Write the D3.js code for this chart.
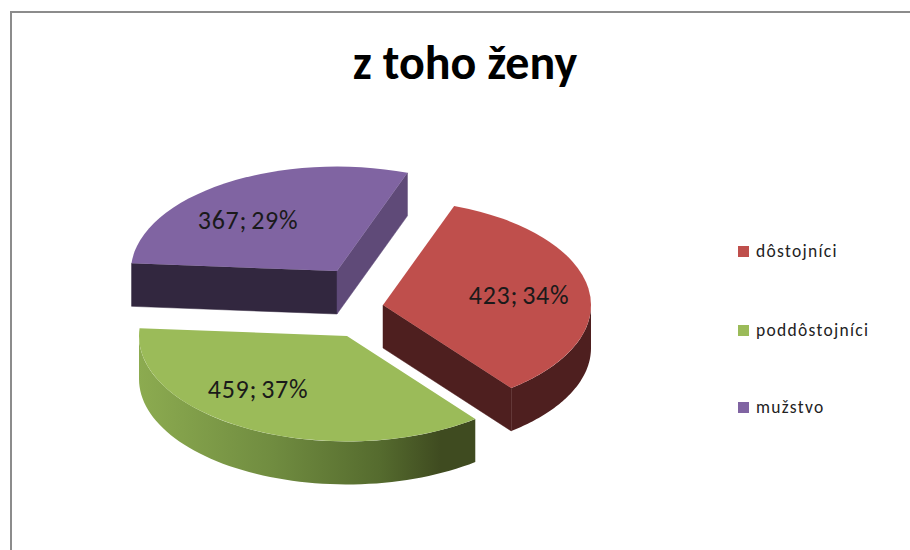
<!DOCTYPE html>
<html><head><meta charset="utf-8">
<script src="https://cdn.jsdelivr.net/npm/d3@7/dist/d3.min.js"></script>
<style>html,body{margin:0;padding:0;background:#fff}svg{display:block}</style>
</head><body><div id="c"></div>
<script>
const categories = ["dôstojníci", "poddôstojníci", "mužstvo"];
const values = [423, 459, 367];
const chartTitle = "z toho ženy";

const colors = ["#bf4f4c", "#9bbb59", "#8064a2"];
const apexes = [[383, 305], [347, 336], [337, 271]];
const radii = [208, 208, 206];
const labelCenters = [[519, 295], [258, 389], [248, 220]];
const legendY = [251, 330, 407];
const startFaceColors = [null, null, "#32273f"];
const endFaceColors = ["#4e1f1f", null, "#5f4a78"];
const wallFills = ["#4e1f1f", "url(#greenWall)", "#32273f"];
const tilt = 0.507, depth = 43, startDeg = 20;

const W = 910, H = 550;
const svg = d3.select("#c").append("svg").attr("width", W).attr("height", H);
const font = "Carlito, Lato, 'Open Sans', sans-serif";

svg.append("path").attr("d", `M11 ${H}V12H${W}`).attr("fill", "none")
  .attr("stroke", "#8c8c8c").attr("stroke-width", 2);

// gradient runs across the green slice's rim, in the slice's own coordinates
const grad = svg.append("defs").append("linearGradient").attr("id", "greenWall")
  .attr("gradientUnits", "userSpaceOnUse").attr("x1", -radii[1]).attr("x2", 127).attr("y1", 0).attr("y2", 0);
[[0, "#8cab50"], [0.4, "#708c40"], [0.72, "#556b2e"], [0.9, "#3f4b20"], [1, "#3f4b20"]]
  .forEach(([o, c]) => grad.append("stop").attr("offset", o).attr("stop-color", c));

svg.append("text").attr("x", 465).attr("y", 79).attr("text-anchor", "middle")
  .attr("font-family", font).attr("font-weight", 700).attr("font-size", 48).attr("fill", "#000")
  .text(chartTitle);

const start = startDeg * Math.PI / 180;
const pie = d3.pie().sort(null).startAngle(start).endAngle(start + 2 * Math.PI);
const arcs = pie(values);
const total = d3.sum(values);
const line = d3.line();

arcs.forEach((d, i) => {
  const rx = radii[i];
  const pt = a => [rx * Math.sin(a), -rx * tilt * Math.cos(a)];
  const arcGen = d3.arc().innerRadius(0).outerRadius(rx);
  const g = svg.append("g").attr("transform", `translate(${apexes[i]})`);
  // curved outer wall: the part of the rim on the front half
  const a0 = Math.max(d.startAngle, Math.PI / 2), a1 = Math.min(d.endAngle, 3 * Math.PI / 2);
  if (a1 > a0) {
    const top = d3.range(0, 61).map(k => pt(a0 + (a1 - a0) * k / 60));
    const bottom = top.map(p => [p[0], p[1] + depth]).reverse();
    g.append("path").attr("d", line(top.concat(bottom)) + "Z").attr("fill", wallFills[i]);
  }
  // flat cut faces
  [[d.startAngle, startFaceColors[i]], [d.endAngle, endFaceColors[i]]].forEach(([a, c]) => {
    if (!c) return;
    const p = pt(a);
    g.append("path").attr("d", line([[0, 0], p, [p[0], p[1] + depth], [0, depth]]) + "Z")
      .attr("fill", c).attr("stroke", c).attr("stroke-width", 0.5);
  });
  // top face
  g.append("g").attr("transform", `scale(1,${tilt})`)
    .append("path").attr("d", arcGen(d)).attr("fill", colors[i]);
});

arcs.forEach((d, i) => {
  svg.append("text").attr("x", labelCenters[i][0]).attr("y", labelCenters[i][1] + 9)
    .attr("text-anchor", "middle").attr("font-family", font).attr("font-size", 26)
    .attr("letter-spacing", 0.7).attr("word-spacing", -2.5).attr("fill", "#1a1a1a")
    .text(`${d.value}; ${d3.format(".0f")(d.value / total * 100)}%`);
});

categories.forEach((c, i) => {
  svg.append("rect").attr("x", 738).attr("y", legendY[i] - 5).attr("width", 11).attr("height", 11).attr("fill", colors[i]);
  svg.append("text").attr("x", 756).attr("y", legendY[i] + 6).attr("font-family", font)
    .attr("font-size", 17.5).attr("letter-spacing", 1.3).attr("fill", "#222").text(c);
});
</script></body></html>
